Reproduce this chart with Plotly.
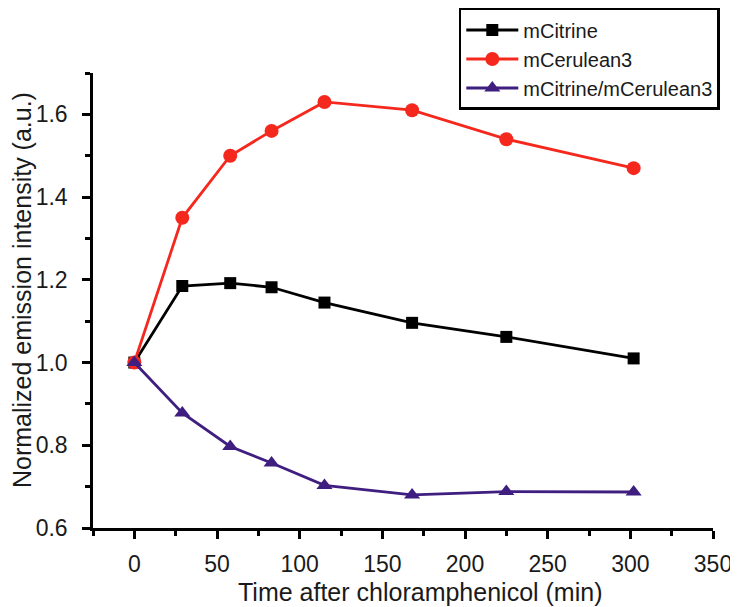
#!/usr/bin/env python3

import plotly.graph_objs as go

# Tiempo tras cloranfenicol (min)
time_min = [0, 29, 58, 83, 115, 168, 225, 302]

# Intensidad de emisión normalizada
citrine = [1.0, 1.185, 1.192, 1.182, 1.145, 1.096, 1.062, 1.01]
cerulean = [1.0, 1.35, 1.50, 1.56, 1.63, 1.61, 1.54, 1.47]
ratio = [1.0, 0.878, 0.797, 0.757, 0.703, 0.68, 0.688, 0.687]

series_names = ['mCitrine', 'mCerulean3', 'mCitrine/mCerulean3']

x_ticks = [0, 50, 100, 150, 200, 250, 300, 350]
y_ticks = [0.6, 0.8, 1.0, 1.2, 1.4, 1.6]

TXT = '#1a1a1a'

fig = go.Figure()
fig.add_trace(go.Scatter(
    x=time_min, y=citrine, name=series_names[0], mode='lines+markers',
    line=dict(color='#000000', width=2.8),
    marker=dict(symbol='square', size=12, color='#000000')
))
fig.add_trace(go.Scatter(
    x=time_min, y=cerulean, name=series_names[1], mode='lines+markers',
    line=dict(color='#f5281e', width=2.8),
    marker=dict(symbol='circle', size=14, color='#f5281e')
))
fig.add_trace(go.Scatter(
    x=time_min, y=ratio, name=series_names[2], mode='lines+markers',
    line=dict(color='#3f1e80', width=2.8),
    marker=dict(symbol='triangle-up', size=14, color='#3f1e80')
))

axis_common = dict(
    showline=True, linecolor='black', linewidth=2.5, mirror=False,
    showgrid=False, zeroline=False, automargin=False,
    ticks='outside', ticklen=8, tickwidth=2.5, tickcolor='black',
    tickfont=dict(size=23, color=TXT),
)

fig.update_xaxes(
    range=[-25, 350], tickvals=x_ticks, ticklabelstandoff=6,
    minor=dict(dtick=25, tick0=0, ticks='outside', ticklen=5, tickwidth=2.5, tickcolor='black'),
    **axis_common
)
fig.update_yaxes(
    range=[0.6, 1.7], tickvals=y_ticks, tickformat='.1f', ticklabelstandoff=10,
    minor=dict(dtick=0.1, tick0=0.6, ticks='outside', ticklen=5, tickwidth=2.5, tickcolor='black'),
    **axis_common
)

# Títulos de ejes como anotaciones para fijar su posición
fig.add_annotation(
    text='Time after chloramphenicol (min)', xref='paper', yref='paper',
    x=0.527, y=0, yshift=-64, showarrow=False,
    xanchor='center', yanchor='middle', font=dict(size=25, color=TXT)
)
fig.add_annotation(
    text='Normalized emission intensity (a.u.)', xref='paper', yref='paper',
    x=0, y=0.523, xshift=-71, textangle=-90, showarrow=False,
    xanchor='center', yanchor='middle', font=dict(size=25, color=TXT)
)

# El body de la página tiene 8 px de margen: la figura se reduce en consecuencia
fig.update_layout(
    width=730, height=599,
    margin=dict(l=85, r=25, t=65, b=79, autoexpand=False),
    plot_bgcolor='white', paper_bgcolor='white',
    font=dict(family='Liberation Sans, Arial, sans-serif', color=TXT),
    legend=dict(
        x=0.59, y=1.1429, xanchor='left', yanchor='top',
        bordercolor='black', borderwidth=2.5, bgcolor='white',
        font=dict(size=20, color=TXT),
        tracegroupgap=0, itemwidth=52,
    ),
)

fig.write_html("out.html")
